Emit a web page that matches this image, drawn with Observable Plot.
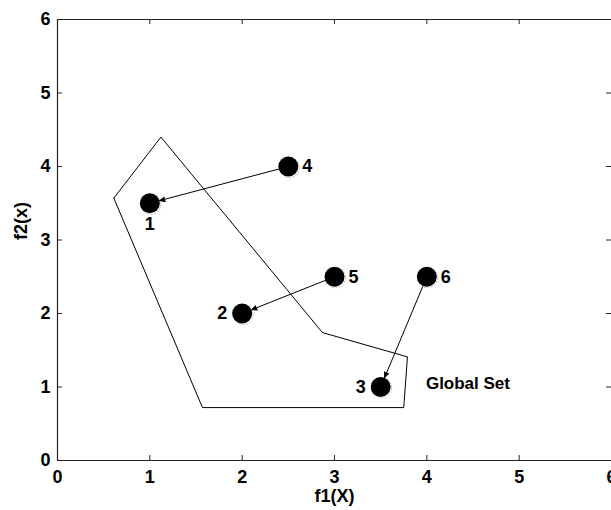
<!DOCTYPE html>
<html>
<head>
<meta charset="utf-8">
<script src="https://cdn.jsdelivr.net/npm/d3@7"></script>
<script src="https://cdn.jsdelivr.net/npm/@observablehq/plot@0.6"></script>
<style>
  html, body { margin: 0; padding: 0; background: #fff; }
  svg { display: block; }
</style>
</head>
<body>
<div id="chart"></div>
<script>
// Points (solutions)
const ptLabel = ["1", "2", "3", "4", "5", "6"];
const ptX = [1, 2, 3.5, 2.5, 3, 4];
const ptY = [3.5, 2, 1, 4, 2.5, 2.5];
const labelSide = ["below", "left", "left", "right", "right", "right"];

// Arrows: from point -> to point
const arrowFrom = ["4", "5", "6"];
const arrowTo = ["1", "2", "3"];

// Global set polygon
const globalX = [0.61, 1.12, 2.87, 3.79, 3.75, 1.57, 0.61];
const globalY = [3.57, 4.40, 1.74, 1.41, 0.72, 0.72, 3.57];
const globalLabel = "Global Set";
const globalLabelX = 3.99;
const globalLabelY = 1.05;

// Axes
const xTicks = [0, 1, 2, 3, 4, 5, 6];
const yTicks = [0, 1, 2, 3, 4, 5, 6];
const xLabel = "f1(X)";
const yLabel = "f2(x)";

const points = ptLabel.map((l, i) => ({label: l, x: ptX[i], y: ptY[i], side: labelSide[i]}));
const byLabel = Object.fromEntries(points.map(p => [p.label, p]));
const arrows = arrowFrom.map((f, i) => ({x1: byLabel[f].x, y1: byLabel[f].y, x2: byLabel[arrowTo[i]].x, y2: byLabel[arrowTo[i]].y}));
const polygon = globalX.map((x, i) => ({x, y: globalY[i]}));

const W = 611, H = 510, mT = 19, mB = 50, mL = 57, mR = 0;
const plotW = W - mL - mR, plotH = H - mT - mB;
const font = "'Liberation Sans', Arial, Helvetica, sans-serif";

const chart = Plot.plot({
  width: W,
  height: H,
  marginTop: mT,
  marginBottom: mB,
  marginLeft: mL,
  marginRight: mR,
  style: {fontFamily: font, fontSize: "17px", fontWeight: "bold", color: "#000", background: "#fff"},
  x: {domain: [0, 6]},
  y: {domain: [0, 6]},
  marks: [
    // frame (left, bottom, top)
    Plot.ruleX([0], {stroke: "#222", strokeWidth: 1.2}),
    Plot.ruleY([0, 6], {stroke: "#222", strokeWidth: 1.2}),
    // inward ticks
    Plot.tickX(xTicks, {x: d => d, insetTop: plotH - 5, stroke: "#222"}),
    Plot.tickX(xTicks, {x: d => d, insetBottom: plotH - 5, stroke: "#222"}),
    Plot.tickY(yTicks, {y: d => d, insetRight: plotW - 5, stroke: "#222"}),
    Plot.tickY(yTicks, {y: d => d, insetLeft: plotW - 5, stroke: "#222"}),
    Plot.axisX(xTicks, {tickSize: 0, tickPadding: 10, label: null, tickFormat: d => String(d), fontSize: 18, fontWeight: "bold"}),
    Plot.axisY(yTicks, {tickSize: 0, tickPadding: 7, label: null, tickFormat: d => String(d), fontSize: 18, fontWeight: "bold"}),
    Plot.text([xLabel], {frameAnchor: "bottom", dy: 41, fontSize: 18, fontWeight: "bold", text: d => d}),
    Plot.text([yLabel], {frameAnchor: "left", dx: -36, rotate: -90, fontSize: 18, fontWeight: "bold", text: d => d}),
    // global set polygon
    Plot.line(polygon, {x: "x", y: "y", stroke: "#000", strokeWidth: 1}),
    Plot.text([globalLabel], {x: () => globalLabelX, y: () => globalLabelY, text: d => d, textAnchor: "start", fontSize: 17, fontWeight: "bold"}),
    // arrows
    Plot.arrow(arrows, {x1: "x1", y1: "y1", x2: "x2", y2: "y2", insetStart: 9, insetEnd: 10, headLength: 9, headAngle: 45, stroke: "#000", fill: "#000", strokeWidth: 1}),
    // markers
    Plot.dot(points, {x: "x", y: "y", r: 10, dx: 1, dy: 1, fill: "none", stroke: "#bbb", strokeWidth: 1, strokeDasharray: "2,1.5"}),
    Plot.dot(points, {x: "x", y: "y", r: 10, fill: "#000", stroke: "none"}),
    // point labels
    Plot.text(points.filter(p => p.side === "right"), {x: "x", y: "y", text: "label", dx: 19, fontSize: 18, fontWeight: "bold"}),
    Plot.text(points.filter(p => p.side === "left"), {x: "x", y: "y", text: "label", dx: -20, fontSize: 18, fontWeight: "bold"}),
    Plot.text(points.filter(p => p.side === "below"), {x: "x", y: "y", text: "label", dy: 21, fontSize: 18, fontWeight: "bold"})
  ]
});
document.getElementById("chart").appendChild(chart);
</script>
</body>
</html>
